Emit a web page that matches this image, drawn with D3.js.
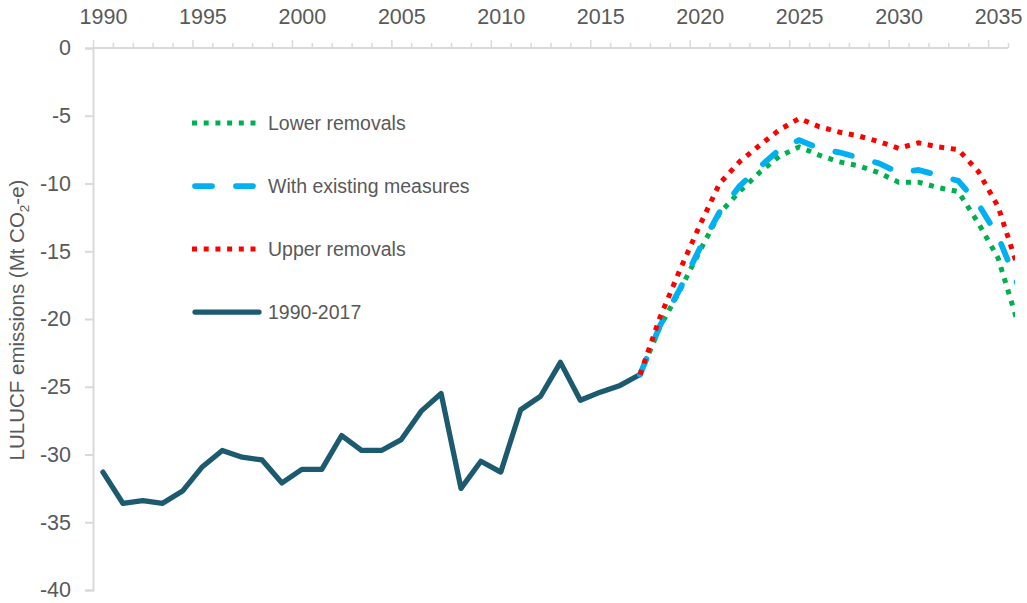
<!DOCTYPE html>
<html><head><meta charset="utf-8">
<script src="https://cdn.jsdelivr.net/npm/d3@7"></script>
<style>
html,body{margin:0;padding:0;background:#fff;}
svg{display:block;}
text{font-family:"Liberation Sans",Arial,sans-serif;fill:#595959;}
</style></head>
<body>
<svg id="chart" width="1027" height="603"></svg>
<script>
// ---- data ----
const histYears = d3.range(1990, 2018);
const histValues = [-31.3,-33.6,-33.4,-33.6,-32.7,-30.9,-29.7,-30.2,-30.4,-32.1,
  -31.1,-31.1,-28.6,-29.7,-29.7,-28.9,-26.8,-25.5,-32.5,-30.5,
  -31.3,-26.7,-25.7,-23.2,-26.0,-25.4,-24.9,-24.1];
const projYears = d3.range(2017, 2037);
const lowerValues = [-24.1,-20.6,-17.9,-15.0,-12.2,-10.6,-9.2,-8.0,-7.3,-7.9,
  -8.4,-8.7,-9.2,-9.9,-9.9,-10.3,-10.6,-12.9,-15.5,-20.3];
const wemValues = [-24.1,-20.5,-17.8,-14.8,-12.1,-10.2,-8.8,-7.5,-6.8,-7.4,
  -7.7,-8.1,-8.5,-9.2,-9.0,-9.4,-9.8,-11.5,-13.9,-17.5];
const upperValues = [-24.1,-19.9,-16.4,-13.1,-10.0,-8.4,-7.2,-6.05,-5.2,-5.8,
  -6.2,-6.5,-6.9,-7.4,-7.0,-7.3,-7.5,-9.1,-11.7,-16.2];
const yTicks = [0,-5,-10,-15,-20,-25,-30,-35,-40];
const xLabelYears = [1990,1995,2000,2005,2010,2015,2020,2025,2030,2035];
const seriesNames = ["Lower removals","With existing measures","Upper removals","1990-2017"];

// ---- layout ----
const svg = d3.select("#chart");
const pLeft = 93, pRight = 1008, pTop = 48, pBottom = 590;
const x = d3.scaleLinear().domain([1989.5, 2035.5]).range([pLeft, pRight]);
const y = d3.scaleLinear().domain([0, -40]).range([pTop, pBottom]);
const axisColor = "#d9d9d9";
const fontFam = '"Liberation Sans",Arial,sans-serif';

// Y axis
const yAxis = svg.append("g").attr("transform", `translate(${pLeft},0)`)
  .call(d3.axisLeft(y).tickValues(yTicks).tickSize(8).tickPadding(14).tickFormat(d => String(d)));
yAxis.select(".domain").attr("stroke", axisColor).attr("stroke-width", 2);
yAxis.selectAll(".tick line").attr("stroke", axisColor).attr("stroke-width", 2);
yAxis.selectAll(".tick text").attr("font-size", "21.5px").attr("fill", "#595959")
  .attr("font-family", fontFam);

// X axis (top): minor ticks at each category boundary, major every 5
const boundaries = d3.range(1990, 2037).map(v => v - 0.5);
const minorB = boundaries.filter(b => (b + 0.5 - 1990) % 5 !== 0);
const majorB = boundaries.filter(b => (b + 0.5 - 1990) % 5 === 0 && b < 2035.5);
const xMinor = svg.append("g").attr("transform", `translate(0,${pTop})`)
  .call(d3.axisTop(x).tickValues(minorB).tickSize(5).tickFormat(""));
xMinor.select(".domain").remove();
xMinor.selectAll(".tick line").attr("stroke", axisColor).attr("stroke-width", 1.5);
const xMajor = svg.append("g").attr("transform", `translate(0,${pTop})`)
  .call(d3.axisTop(x).tickValues(majorB).tickSize(8).tickFormat(""));
xMajor.select(".domain").remove();
xMajor.selectAll(".tick line").attr("stroke", axisColor).attr("stroke-width", 1.5);
svg.append("line").attr("x1", pLeft).attr("x2", pRight).attr("y1", pTop).attr("y2", pTop)
  .attr("stroke", axisColor).attr("stroke-width", 2);
const xLab = svg.append("g").attr("transform", `translate(0,${pTop})`)
  .call(d3.axisTop(x).tickValues(xLabelYears).tickSize(0).tickPadding(24).tickFormat(d => String(d)));
xLab.select(".domain").remove();
xLab.selectAll(".tick text").attr("font-size", "21.5px").attr("fill", "#595959")
  .attr("font-family", fontFam);

// Y axis title
const title = svg.append("text").attr("transform", "translate(24,320) rotate(-90)")
  .attr("text-anchor", "middle").attr("font-size", "20.5px");
title.append("tspan").text("LULUCF emissions (Mt CO");
title.append("tspan").attr("font-size", "13.5px").attr("dy", 5).text("2");
title.append("tspan").attr("dy", -5).text("-e)");

// clip
svg.append("clipPath").attr("id", "clip").append("rect")
  .attr("x", 0).attr("y", 0).attr("width", 1015).attr("height", 603);

const line = d3.line().x(d => x(d[0])).y(d => y(d[1]));
const plot = svg.append("g").attr("clip-path", "url(#clip)");

const histColor = "#1c5a6f", green = "#00b050", blue = "#00b0f0", red = "#ff0000";
plot.append("path").datum(histYears.map((yr, i) => [yr, histValues[i]]))
  .attr("d", line).attr("fill", "none").attr("stroke", histColor)
  .attr("stroke-width", 5.25).attr("stroke-linejoin", "round").attr("stroke-linecap", "round");
plot.append("path").datum(projYears.map((yr, i) => [yr, lowerValues[i]]))
  .attr("d", line).attr("fill", "none").attr("stroke", green)
  .attr("stroke-width", 5).attr("stroke-dasharray", "5 6.7");
plot.append("path").datum(projYears.map((yr, i) => [yr, wemValues[i]]))
  .attr("d", line).attr("fill", "none").attr("stroke", blue)
  .attr("stroke-width", 5.75).attr("stroke-linecap", "round").attr("stroke-dasharray", "17 24");
plot.append("path").datum(projYears.map((yr, i) => [yr, upperValues[i]]))
  .attr("d", line).attr("fill", "none").attr("stroke", red)
  .attr("stroke-width", 5).attr("stroke-dasharray", "5 6.7");

// legend
const legendY = [123, 186, 249, 312];
const styles = [
  {c: green, w: 5, dash: "5 6.7", cap: "butt"},
  {c: blue, w: 5.75, dash: "17 24", cap: "round"},
  {c: red, w: 5, dash: "5 6.7", cap: "butt"},
  {c: histColor, w: 5.25, dash: null, cap: "round"}
];
seriesNames.forEach((name, i) => {
  const g = svg.append("g").attr("transform", `translate(0,${legendY[i]})`);
  const s = styles[i];
  const x1 = s.cap === "round" ? 195 : 192, x2 = s.cap === "round" ? 259 : 262;
  g.append("line").attr("x1", x1).attr("x2", x2).attr("y1", 0).attr("y2", 0)
    .attr("stroke", s.c).attr("stroke-width", s.w).attr("stroke-linecap", s.cap)
    .attr("stroke-dasharray", s.dash);
  g.append("text").attr("x", 268).attr("y", 0).attr("dy", "0.35em")
    .attr("font-size", "19.5px").text(name);
});
</script>
</body></html>
